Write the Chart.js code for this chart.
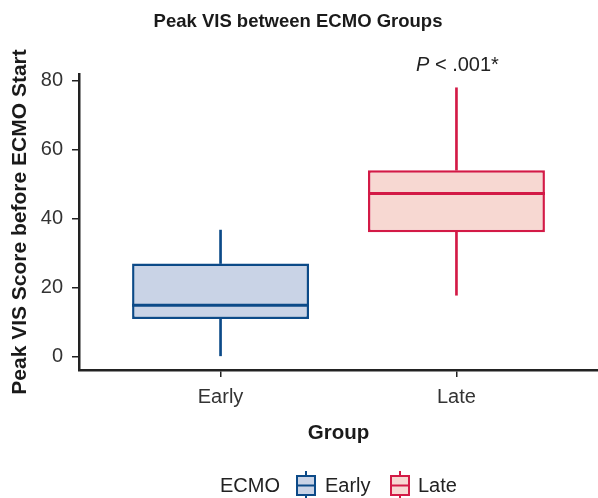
<!DOCTYPE html>
<html>
<head>
<meta charset="utf-8">
<script src="https://cdn.jsdelivr.net/npm/chart.js@4.4.1/dist/chart.umd.min.js"></script>
<style>
  html, body { margin: 0; padding: 0; background: #fff; }
</style>
</head>
<body>
<canvas id="boxchart" width="598" height="498"></canvas>
<script>
// data
const groups = ['Early', 'Late'];
const whiskerLow = [0, 17.8];
const quart1 = [10.9, 36.1];
const medians = [14.9, 47.3];
const quart3 = [27.0, 54.1];
const whiskerHigh = [36.7, 78.0];
const yTicks = [0, 20, 40, 60, 80];
const pLabel = ['P', ' < .001*'];

const borderColors = ['#0c4a88', '#d31a46'];
const fillColors = ['#c9d3e6', '#f7d8d2'];
const FONT = "'Liberation Sans', Arial, sans-serif";

function pts(lo, hi) {
  return groups.map(function (g, i) { return { x: i + 1, y: [lo[i], hi[i]] }; });
}

// median lines, title, p value and legend
const extras = {
  id: 'extras',
  afterDatasetsDraw: function (chart) {
    "use strict";
    const ctx = chart.ctx;
    const ys = chart.scales.y;
    const boxMeta = chart.getDatasetMeta(0);
    ctx.save();
    ctx.lineWidth = 3;
    medians.forEach(function (m, i) {
      const bar = boxMeta.data[i];
      const y = ys.getPixelForValue(m);
      ctx.strokeStyle = borderColors[i];
      ctx.beginPath();
      ctx.moveTo(bar.x - bar.width / 2, y);
      ctx.lineTo(bar.x + bar.width / 2, y);
      ctx.stroke();
    });
    ctx.restore();
  },
  afterDraw: function (chart) {
    "use strict";
    const ctx = chart.ctx;
    const xs = chart.scales.x;
    ctx.save();
    ctx.textBaseline = 'middle';

    // title
    ctx.fillStyle = '#1a1a1a';
    ctx.font = 'bold 18.5px ' + FONT;
    ctx.textAlign = 'center';
    ctx.fillText('Peak VIS between ECMO Groups', 298, 22);

    // p value above the Late box
    ctx.textAlign = 'left';
    ctx.fillStyle = '#222';
    ctx.font = 'italic 20px ' + FONT;
    const w1 = ctx.measureText(pLabel[0]).width;
    ctx.font = '20px ' + FONT;
    const w2 = ctx.measureText(pLabel[1]).width;
    let px = xs.getPixelForValue(2) - (w1 + w2) / 2 + 1;
    ctx.font = 'italic 20px ' + FONT;
    ctx.fillText(pLabel[0], px, 65);
    ctx.font = '20px ' + FONT;
    ctx.fillText(pLabel[1], px + w1, 65);

    // legend
    const ly = 486;
    ctx.fillStyle = '#222';
    ctx.font = '20px ' + FONT;
    ctx.fillText('ECMO', 220, ly);
    const iconX = [297, 391];
    const textX = [325, 418];
    groups.forEach(function (g, i) {
      const x0 = iconX[i];
      const cx = x0 + 9;
      ctx.strokeStyle = borderColors[i];
      ctx.lineWidth = 2;
      ctx.beginPath();
      ctx.moveTo(cx, 471);
      ctx.lineTo(cx, 498);
      ctx.stroke();
      ctx.fillStyle = fillColors[i];
      ctx.fillRect(x0, 476, 18, 19);
      ctx.strokeRect(x0, 476, 18, 19);
      ctx.beginPath();
      ctx.moveTo(x0, 485.5);
      ctx.lineTo(x0 + 18, 485.5);
      ctx.stroke();
      ctx.fillStyle = '#222';
      ctx.fillText(g, textX[i], ly);
    });
    ctx.restore();
  }
};

const config = {
  type: 'bar',
  data: {
    datasets: [
      {
        label: 'box',
        data: pts(quart1, quart3),
        backgroundColor: fillColors,
        borderColor: borderColors,
        borderWidth: 2.5,
        borderSkipped: false,
        barPercentage: 0.75,
        categoryPercentage: 1,
        grouped: false
      },
      {
        label: 'low',
        data: pts(whiskerLow, quart1),
        backgroundColor: borderColors,
        borderWidth: 0,
        barThickness: 2,
        grouped: false
      },
      {
        label: 'high',
        data: pts(quart3, whiskerHigh),
        backgroundColor: borderColors,
        borderWidth: 0,
        barThickness: 2,
        grouped: false
      }
    ]
  },
  options: {
    responsive: false,
    animation: false,
    layout: { padding: { top: 74, left: 0, right: 0, bottom: 48 } },
    plugins: {
      legend: { display: false },
      tooltip: { enabled: false }
    },
    scales: {
      x: {
        type: 'linear',
        min: 0.4,
        max: 2.6,
        offset: false,
        afterBuildTicks: function (axis) {
          axis.ticks = groups.map(function (g, i) { return { value: i + 1 }; });
        },
        afterFit: function (axis) { axis.height = 80; },
        ticks: {
          callback: function (v) { return groups[v - 1]; },
          font: { family: FONT, size: 20 },
          color: '#333',
          padding: 8,
          maxRotation: 0
        },
        grid: { offset: false, drawOnChartArea: false, drawTicks: true, tickLength: 7, color: '#222', lineWidth: 1.5 },
        border: { display: true, color: '#222', width: 2.5 },
        title: {
          display: true,
          text: 'Group',
          font: { family: FONT, size: 20.5, weight: 'bold' },
          color: '#1a1a1a',
          padding: { top: 0, bottom: 4 }
        }
      },
      y: {
        min: -3.9,
        max: 82,
        afterBuildTicks: function (axis) {
          axis.ticks = yTicks.map(function (v) { return { value: v }; });
        },
        afterFit: function (axis) { axis.width = 79; },
        ticks: {
          font: { family: FONT, size: 20 },
          color: '#333',
          padding: 9
        },
        grid: { drawOnChartArea: false, drawTicks: true, tickLength: 7, color: '#222', lineWidth: 1.5 },
        border: { display: true, color: '#222', width: 2.5 },
        title: {
          display: true,
          text: 'Peak VIS Score before ECMO Start',
          font: { family: FONT, size: 21, weight: 'bold' },
          color: '#1a1a1a',
          padding: { top: 8, bottom: 0 }
        }
      }
    }
  },
  plugins: [extras]
};

new Chart(document.getElementById('boxchart'), config);
</script>
</body>
</html>
